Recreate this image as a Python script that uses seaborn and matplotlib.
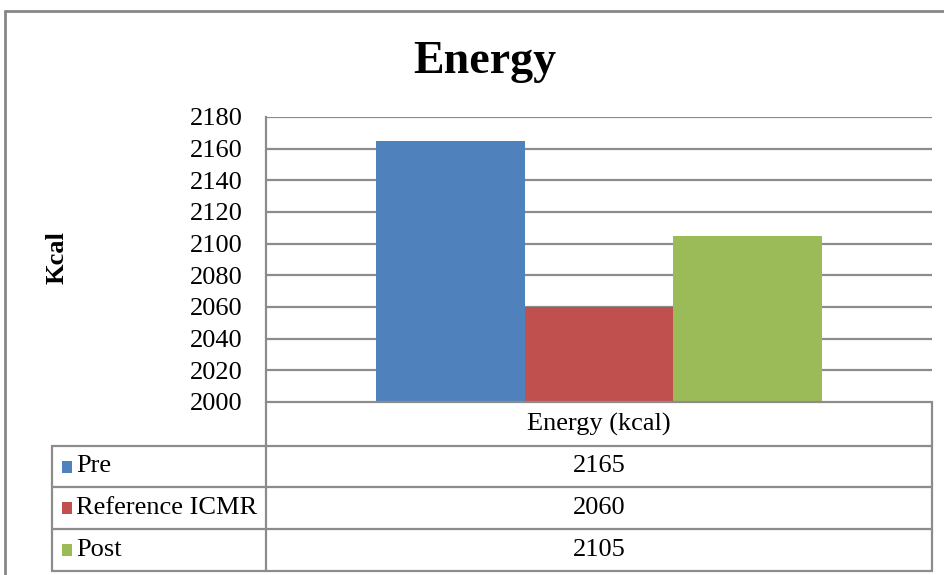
import matplotlib
matplotlib.use("Agg")
import matplotlib.pyplot as plt
import seaborn as sns
import pandas as pd

# Data
category = "Energy (kcal)"
series = ["Pre", "Reference ICMR", "Post"]
values = [2165, 2060, 2105]
colors = ["#4F81BD", "#C0504D", "#9BBB59"]
y_ticks = [2000, 2020, 2040, 2060, 2080, 2100, 2120, 2140, 2160, 2180]

sns.set_theme(style="white")
plt.rcParams["font.family"] = ["Liberation Serif", "DejaVu Serif"]
plt.rcParams["text.color"] = "black"
plt.rcParams["axes.labelcolor"] = "black"

W, H = 945, 575
fig = plt.figure(figsize=(W / 100, H / 100), dpi=100)
fig.patch.set_facecolor("white")

# Plot area in pixel terms
left_px, right_px, top_px, bottom_px = 266, 932, 117, 402
ax = fig.add_axes([left_px / W, 1 - bottom_px / H,
                   (right_px - left_px) / W, (bottom_px - top_px) / H])

df = pd.DataFrame({"category": [category] * len(series),
                   "series": series, "value": values})
sns.barplot(data=df, x="category", y="value", hue="series",
            hue_order=series, palette=colors, width=0.67, gap=0,
            legend=False, ax=ax, saturation=1, errorbar=None,
            linewidth=0, edgecolor="none", zorder=3)

grid_c = "#8c8c8c"
ax.set_ylim(y_ticks[0], y_ticks[-1])
ax.set_xlim(-0.5, 0.5)
ax.set_yticks(y_ticks)
ax.set_yticklabels([str(t) for t in y_ticks], fontsize=19)
ax.tick_params(axis="y", length=0, pad=17, colors="black")
ax.set_xticks([])
ax.set_xlabel("")
ax.set_ylabel("")
for t in y_ticks[1:]:
    ax.axhline(t, color=grid_c, lw=1.6, zorder=1)
for side in ["top", "right", "bottom"]:
    ax.spines[side].set_visible(False)
ax.spines["left"].set_color(grid_c)
ax.spines["left"].set_linewidth(1.6)
ax.set_facecolor("white")

# Overlay in pixel coordinates for frame, title and data table
ov2 = fig.add_axes([0, 0, 1, 1], zorder=5)
ov2.set_xlim(0, W)
ov2.set_ylim(H, 0)
ov2.axis("off")
ov2.patch.set_alpha(0)

frame_c = "#878787"
ov2.plot([5, 5], [11, H], color=frame_c, lw=2)
ov2.plot([5, W], [11, 11], color=frame_c, lw=2)

ov2.text(485, 62, "Energy", ha="center", va="center",
         fontsize=33, fontweight="bold", color="black")
ov2.text(57, 258, "Kcal", ha="center", va="center", rotation=90,
         fontsize=19, fontweight="bold", color="black")

# Data table
row_y = [402, 446, 487, 529, 571]
tbl_left, tbl_mid, tbl_right = 52, left_px, right_px
lc = "#8c8c8c"
lw = 1.6
ov2.plot([tbl_mid, tbl_right], [row_y[0], row_y[0]], color=lc, lw=lw)
for y in row_y[1:]:
    ov2.plot([tbl_left, tbl_right], [y, y], color=lc, lw=lw)
ov2.plot([tbl_mid, tbl_mid], [row_y[0], row_y[-1]], color=lc, lw=lw)
ov2.plot([tbl_right, tbl_right], [row_y[0], row_y[-1]], color=lc, lw=lw)
ov2.plot([tbl_left, tbl_left], [row_y[1], row_y[-1]], color=lc, lw=lw)

cx = (tbl_mid + tbl_right) / 2
ov2.text(cx, (row_y[0] + row_y[1]) / 2, category, ha="center",
         va="center", fontsize=19, color="black")
for i, (name, val, col) in enumerate(zip(series, values, colors)):
    yc = (row_y[i + 1] + row_y[i + 2]) / 2
    ov2.add_patch(plt.Rectangle((62, yc - 6), 10, 12, color=col, lw=0))
    ov2.text(76, yc, name, ha="left", va="center", fontsize=19, color="black")
    ov2.text(cx, yc, str(val), ha="center", va="center", fontsize=19,
             color="black")

fig.savefig("out.png", dpi=100, facecolor="white")
